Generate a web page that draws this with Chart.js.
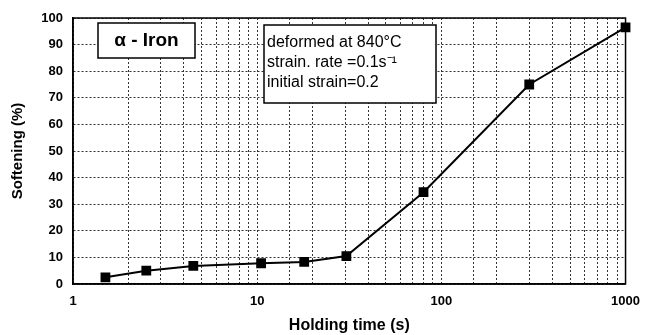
<!DOCTYPE html>
<html>
<head>
<meta charset="utf-8">
<script src="https://cdn.jsdelivr.net/npm/chart.js"></script>
<style>
  html, body { margin: 0; padding: 0; background: #fff; }
  #wrap { width: 650px; height: 335px; }
</style>
</head>
<body>
<div id="wrap"><canvas id="softChart"></canvas></div>
<script>
// holding time (s) vs softening (%)
const holdingTimes = [1.5, 2.5, 4.5, 10.5, 18, 30.5, 80, 300, 1000];
const softening = [2.5, 5, 6.8, 7.8, 8.3, 10.5, 34.5, 75, 96.5];
const xTickLabels = [1, 10, 100, 1000];
const noteLines = ["deformed at 840°C", "strain. rate =0.1s⁻¹", "initial strain=0.2"];
const materialLabel = "α - Iron";

const font = "'Liberation Sans', Arial, sans-serif";

const frameAndNotes = {
  id: "frameAndNotes",
  afterDatasetsDraw(chart) {
    const { ctx, chartArea: a } = chart;
    ctx.save();
    // plot frame
    ctx.strokeStyle = "#000";
    ctx.lineWidth = 1.5;
    ctx.strokeRect(a.left, a.top, a.right - a.left, a.bottom - a.top);

    // alpha-iron box
    ctx.fillStyle = "#fff";
    ctx.fillRect(a.left + 25, a.top + 5, 97, 35);
    ctx.strokeRect(a.left + 25, a.top + 5, 97, 35);
    ctx.fillStyle = "#000";
    ctx.font = "bold 19px " + font;
    ctx.textAlign = "center";
    ctx.textBaseline = "middle";
    ctx.fillText(materialLabel, a.left + 25 + 48.5, a.top + 23);

    // conditions box
    ctx.fillStyle = "#fff";
    ctx.fillRect(a.left + 191, a.top + 7, 172, 78);
    ctx.strokeRect(a.left + 191, a.top + 7, 172, 78);
    ctx.fillStyle = "#000";
    ctx.font = "16px " + font;
    ctx.textAlign = "left";
    noteLines.forEach((t, i) => {
      ctx.fillText(t, a.left + 194, a.top + 25 + i * 20);
    });
    ctx.restore();
  }
};

const ctx = document.getElementById("softChart");

new Chart(ctx, {
  type: "line",
  data: {
    datasets: [
      {
        label: "Softening",
        data: holdingTimes.map((t, i) => ({ x: t, y: softening[i] })),
        borderColor: "#000",
        backgroundColor: "#000",
        borderWidth: 2,
        pointStyle: "rect",
        pointRadius: 5.5,
        pointHoverRadius: 5.5,
        tension: 0,
        clip: false,
      },
    ],
  },
  options: {
    responsive: true,
    maintainAspectRatio: false,
    animation: false,
    layout: { padding: { top: 18, right: 16, left: 0, bottom: 0 } },
    plugins: {
      legend: { display: false },
      tooltip: { enabled: false },
    },
    scales: {
      x: {
        type: "logarithmic",
        min: 1,
        max: 1000,
        afterFit(scale) { scale.height = 51; },
        border: { display: true, color: "#000", width: 1.5, dash: [2, 2] },
        grid: { color: "#333", drawTicks: false, lineWidth: 1 },
        ticks: {
          autoSkip: false,
          maxRotation: 0,
          padding: 10,
          color: "#000",
          font: { family: font, size: 13, weight: "bold" },
          callback: (v) => (xTickLabels.includes(v) ? String(v) : ""),
        },
        title: {
          display: true,
          text: "Holding time (s)",
          color: "#000",
          font: { family: font, size: 16, weight: "bold" },
          padding: { top: 0, bottom: 0 },
        },
      },
      y: {
        min: 0,
        max: 100,
        afterFit(scale) { scale.width = 73; },
        border: { display: true, color: "#000", width: 1.5, dash: [2, 2] },
        grid: { color: "#333", drawTicks: false, lineWidth: 1 },
        ticks: {
          stepSize: 10,
          padding: 10,
          color: "#000",
          font: { family: font, size: 13, weight: "bold" },
        },
        title: {
          display: true,
          text: "Softening (%)",
          color: "#000",
          font: { family: font, size: 15, weight: "bold" },
          padding: { top: 9, bottom: 0 },
        },
      },
    },
  },
  plugins: [frameAndNotes],
});
</script>
</body>
</html>
